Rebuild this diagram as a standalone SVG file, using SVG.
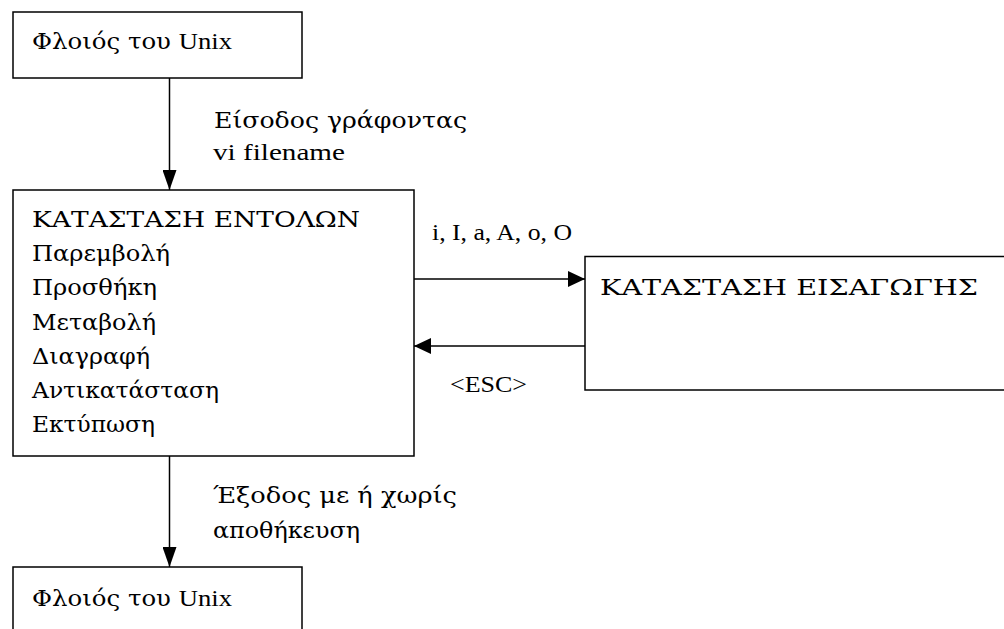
<svg xmlns="http://www.w3.org/2000/svg" width="1004" height="629" viewBox="0 0 1004 629">
<style>
.box{fill:#fff;stroke:#000;stroke-width:1.5}
.t{font-family:"Liberation Serif","DejaVu Serif",serif;font-size:24px;fill:#000}
.g{font-family:"DejaVu Serif","Liberation Serif",serif;font-size:22px;fill:#000}
.c{stroke:#000;stroke-width:1.5;fill:none}
</style>
<defs>
<marker id="ah" viewBox="0 0 17 16" refX="17" refY="8" markerWidth="17" markerHeight="16" markerUnits="userSpaceOnUse" orient="auto">
<path d="M0,0 L17,8 L0,16 Z" fill="#000"/>
</marker>
<marker id="av" viewBox="0 0 20 14" refX="20" refY="7" markerWidth="20" markerHeight="14" markerUnits="userSpaceOnUse" orient="auto">
<path d="M0,0 L20,7 L0,14 Z" fill="#000"/>
</marker>
</defs>
<rect width="1004" height="629" fill="#fff"/>
<g id="connectors">
<line class="c" x1="169.5" y1="78" x2="169.5" y2="190" marker-end="url(#av)"/>
<line class="c" x1="414" y1="279" x2="585" y2="279" marker-end="url(#ah)"/>
<line class="c" x1="585" y1="346" x2="414" y2="346" marker-end="url(#ah)"/>
<line class="c" x1="169.5" y1="456" x2="169.5" y2="567" marker-end="url(#av)"/>
<text class="g" x="214" y="128" textLength="253" lengthAdjust="spacingAndGlyphs">Είσοδος γράφοντας</text>
<text class="t" x="213" y="160" textLength="132" lengthAdjust="spacingAndGlyphs">vi filename</text>
<text class="t" x="432" y="240" textLength="140" lengthAdjust="spacingAndGlyphs">i, I, a, A, o, O</text>
<text class="t" x="450" y="392" textLength="77" lengthAdjust="spacingAndGlyphs">&lt;ESC&gt;</text>
<text class="g" x="213" y="503" textLength="244" lengthAdjust="spacingAndGlyphs">Έξοδος με ή χωρίς</text>
<text class="g" x="213" y="538" textLength="147" lengthAdjust="spacingAndGlyphs">αποθήκευση</text>
</g>
<g id="shell-top">
<rect class="box" x="13" y="12" width="289" height="66"/>
<text class="g" x="32" y="49" textLength="200" lengthAdjust="spacingAndGlyphs">Φλοιός του <tspan class="t">Unix</tspan></text>
</g>
<g id="command-mode">
<rect class="box" x="13" y="190" width="401" height="266"/>
<text class="g" x="32" y="227" textLength="328" lengthAdjust="spacingAndGlyphs">ΚΑΤΑΣΤΑΣΗ ΕΝΤΟΛΩΝ</text>
<text class="g" x="32" y="261" textLength="138" lengthAdjust="spacingAndGlyphs">Παρεμβολή</text>
<text class="g" x="32" y="295" textLength="125" lengthAdjust="spacingAndGlyphs">Προσθήκη</text>
<text class="g" x="32" y="330" textLength="124" lengthAdjust="spacingAndGlyphs">Μεταβολή</text>
<text class="g" x="32" y="364" textLength="118" lengthAdjust="spacingAndGlyphs">Διαγραφή</text>
<text class="g" x="32" y="398" textLength="187" lengthAdjust="spacingAndGlyphs">Αντικατάσταση</text>
<text class="g" x="32" y="432" textLength="123" lengthAdjust="spacingAndGlyphs">Εκτύπωση</text>
</g>
<g id="insert-mode">
<rect class="box" x="585" y="256.5" width="430" height="133.5"/>
<text class="g" x="600" y="295" textLength="378" lengthAdjust="spacingAndGlyphs">ΚΑΤΑΣΤΑΣΗ ΕΙΣΑΓΩΓΗΣ</text>
</g>
<g id="shell-bottom">
<rect class="box" x="13" y="567" width="289" height="80"/>
<text class="g" x="32" y="606" textLength="200" lengthAdjust="spacingAndGlyphs">Φλοιός του <tspan class="t">Unix</tspan></text>
</g>
</svg>
